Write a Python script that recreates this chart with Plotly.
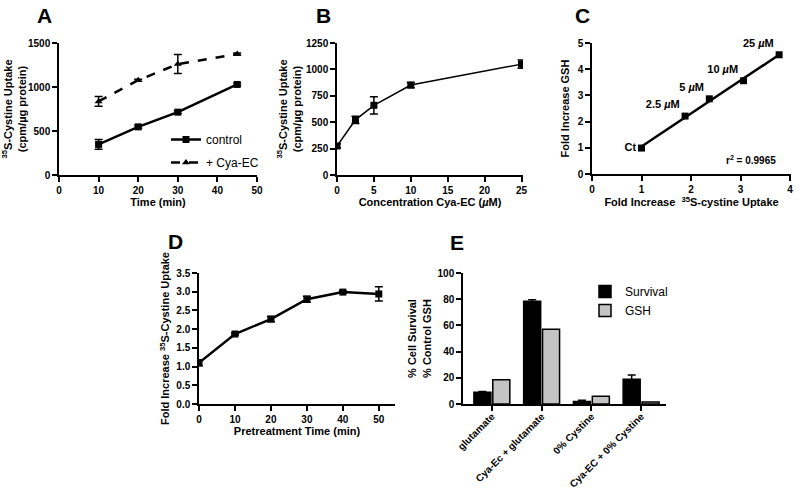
import numpy as np
import plotly.graph_objects as go

# ---- data ----
# A: uptake over time
a_time = [10, 20, 30, 45]
a_control = [348, 547, 714, 1029]
a_control_err = [55, 15, 15, 15]
a_cya = [836, 1077, 1261, 1375]
a_cya_err = [55, 12, 108, 10]

# B: concentration response
b_conc = [0, 2.5, 5, 10, 25]
b_uptake = [275, 522, 660, 852, 1050]
b_err = [20, 35, 82, 25, 40]

# C: GSH vs uptake
c_uptake = [1.0, 1.88, 2.37, 3.06, 3.78]
c_gsh = [0.99, 2.21, 2.87, 3.56, 4.55]
c_labels = ["Ct", "2.5 <i>µ</i>M", "5 <i>µ</i>M", "10 <i>µ</i>M", "25 <i>µ</i>M"]

# D: pretreatment time
d_time = [0, 10, 20, 30, 40, 50]
d_fold = [1.10, 1.87, 2.27, 2.80, 2.99, 2.94]
d_err = [0.08, 0.03, 0.07, 0.08, 0.03, 0.19]

# E: survival / GSH
e_cats = ["glutamate", "Cya-Ec + glutamate", "0% Cystine", "Cya-EC + 0% Cystine"]
e_survival = [9.0, 78.5, 2.0, 18.8]
e_survival_err = [0.6, 1.0, 0.8, 3.4]
e_gsh = [18.5, 57.0, 6.0, 1.6]

W, H = 800, 490
FONT = "Liberation Sans"


def xd(l, r):
    return [l / W, r / W]


def yd(t, b):
    return [1 - b / H, 1 - t / H]


def axis(**kw):
    d = dict(showline=True, linecolor="black", linewidth=1.5, ticks="outside",
             ticklen=5, tickwidth=1.5, tickcolor="black", showgrid=False,
             zeroline=False, automargin=False,
             tickfont=dict(family=FONT, size=10, color="black", weight="bold"),
             title_font=dict(family=FONT, size=11, color="black", weight="bold"))
    d.update(kw)
    return d


eb = dict(type="data", thickness=1.5, width=4, color="black")

fig = go.Figure()

# A
fig.add_trace(go.Scatter(x=a_time, y=a_control, name="control", mode="lines+markers",
                         line=dict(color="black", width=2.5),
                         marker=dict(symbol="square", size=7, color="black"),
                         error_y=dict(array=a_control_err, **eb),
                         xaxis="x", yaxis="y", legend="legend", legendgroup="a1"))
fig.add_trace(go.Scatter(x=a_time, y=a_cya, name="+ Cya-EC", mode="lines+markers",
                         line=dict(color="black", width=2.5, dash="dash"),
                         marker=dict(symbol="triangle-up", size=7, color="black"),
                         error_y=dict(array=a_cya_err, **eb),
                         xaxis="x", yaxis="y", legend="legend", legendgroup="a2"))

# B
fig.add_trace(go.Scatter(x=b_conc, y=b_uptake, mode="lines+markers", showlegend=False,
                         line=dict(color="black", width=1.5),
                         marker=dict(symbol="square", size=7, color="black"),
                         error_y=dict(array=b_err, **eb),
                         xaxis="x2", yaxis="y2"))

# C: regression line + points + labels
slope, icpt = np.polyfit(c_uptake, c_gsh, 1)
fx = [min(c_uptake), max(c_uptake)]
fig.add_trace(go.Scatter(x=fx, y=[slope * v + icpt for v in fx], mode="lines",
                         showlegend=False, line=dict(color="black", width=2.5),
                         xaxis="x3", yaxis="y3"))
fig.add_trace(go.Scatter(x=c_uptake, y=c_gsh, mode="markers+text", showlegend=False,
                         marker=dict(symbol="square", size=7, color="black"),
                         text=c_labels,
                         textposition=["middle left"] + ["top left"] * 4,
                         textfont=dict(family=FONT, size=11, color="black", weight="bold"),
                         cliponaxis=False, xaxis="x3", yaxis="y3"))

# D
fig.add_trace(go.Scatter(x=d_time, y=d_fold, mode="lines+markers", showlegend=False,
                         line=dict(color="black", width=2.5),
                         marker=dict(symbol="square", size=7, color="black"),
                         error_y=dict(array=d_err, **eb),
                         xaxis="x4", yaxis="y4"))

# E
fig.add_trace(go.Bar(x=e_cats, y=e_survival, name="Survival",
                     marker=dict(color="black", line=dict(color="black", width=1.5)),
                     error_y=dict(array=e_survival_err, **eb),
                     xaxis="x5", yaxis="y5", legend="legend2"))
fig.add_trace(go.Bar(x=e_cats, y=e_gsh, name="GSH",
                     marker=dict(color="#c4c4c4", line=dict(color="black", width=1.5)),
                     xaxis="x5", yaxis="y5", legend="legend2"))

fig.update_layout(
    width=W, height=H, margin=dict(l=0, r=0, t=0, b=0),
    paper_bgcolor="white", plot_bgcolor="white",
    font=dict(family=FONT, color="black"),
    barmode="group", bargap=0.24, bargroupgap=0.1,
    xaxis=axis(domain=xd(59, 257), range=[0, 50], tickvals=[0, 10, 20, 30, 40, 50],
               anchor="y", title_text="Time (min)", title_standoff=4),
    yaxis=axis(domain=yd(43, 175), range=[0, 1500], tickvals=[0, 500, 1000, 1500],
               anchor="x", title_text="<sup>35</sup>S-Cystine Uptake<br>(cpm/µg protein)",
               title_standoff=2),
    xaxis2=axis(domain=xd(337, 523), range=[0, 25.2], tickvals=[0, 5, 10, 15, 20, 25],
                anchor="y2", title_text="Concentration Cya-EC (<i>µ</i>M)", title_standoff=4),
    yaxis2=axis(domain=yd(43, 175), range=[0, 1250], tickvals=[0, 250, 500, 750, 1000, 1250],
                anchor="x2", title_text="<sup>35</sup>S-Cystine Uptake<br>(cpm/µg protein)",
                title_standoff=2),
    xaxis3=axis(domain=xd(592, 791), range=[0, 4.02], tickvals=[0, 1, 2, 3, 4],
                anchor="y3", title_text="Fold Increase  <sup>35</sup>S-cystine Uptake",
                title_standoff=4),
    yaxis3=axis(domain=yd(43, 174), range=[0, 5], tickvals=[0, 1, 2, 3, 4, 5],
                anchor="x3", title_text="Fold Increase GSH", title_standoff=6),
    xaxis4=axis(domain=xd(199, 395), range=[0, 54.5], tickvals=[0, 10, 20, 30, 40, 50],
                anchor="y4", title_text="Pretreatment Time (min)", title_standoff=4),
    yaxis4=axis(domain=yd(273, 404), range=[0, 3.5],
                tickvals=[0, 0.5, 1, 1.5, 2, 2.5, 3, 3.5], tickformat=".1f",
                anchor="x4", title_text="Fold Increase <sup>35</sup>S-Cystine Uptake",
                title_standoff=4),
    xaxis5=axis(domain=xd(463, 666), range=[-0.58, 3.5], type="category",
                anchor="y5", tickangle=-45, ticklabelstandoff=-4),
    yaxis5=axis(domain=yd(273, 404), range=[0, 100], tickvals=[0, 20, 40, 60, 80, 100],
                anchor="x5", title_text="% Cell Survival<br>% Control GSH", title_standoff=4),
    legend=dict(x=166 / W, y=1 - 125 / H, xanchor="left", yanchor="top",
                bgcolor="rgba(0,0,0,0)", font=dict(family=FONT, size=12, color="black"),
                tracegroupgap=4, itemwidth=30),
    legend2=dict(x=585 / W, y=1 - 277 / H, xanchor="left", yanchor="top",
                 bgcolor="rgba(0,0,0,0)", font=dict(family=FONT, size=12, color="black"),
                 itemwidth=30),
)

letters = [("A", 35, 15), ("B", 314, 15), ("C", 573, 15), ("D", 166, 242), ("E", 448, 243)]
for s, px, py in letters:
    fig.add_annotation(text=s, xref="paper", yref="paper", x=px / W, y=1 - py / H,
                       xanchor="left", yanchor="middle", showarrow=False,
                       font=dict(family=FONT, size=21, color="black", weight="bold"))

fig.add_annotation(text="r<sup>2</sup> = 0.9965", xref="x3", yref="y3", x=3.22, y=0.55,
                   showarrow=False,
                   font=dict(family=FONT, size=10, color="black", weight="bold"))

# remove the default page margin so the 800x490 figure fills the window
fig.write_html("out.html", config={"displayModeBar": False},
               post_script="document.body.style.margin='0';")
